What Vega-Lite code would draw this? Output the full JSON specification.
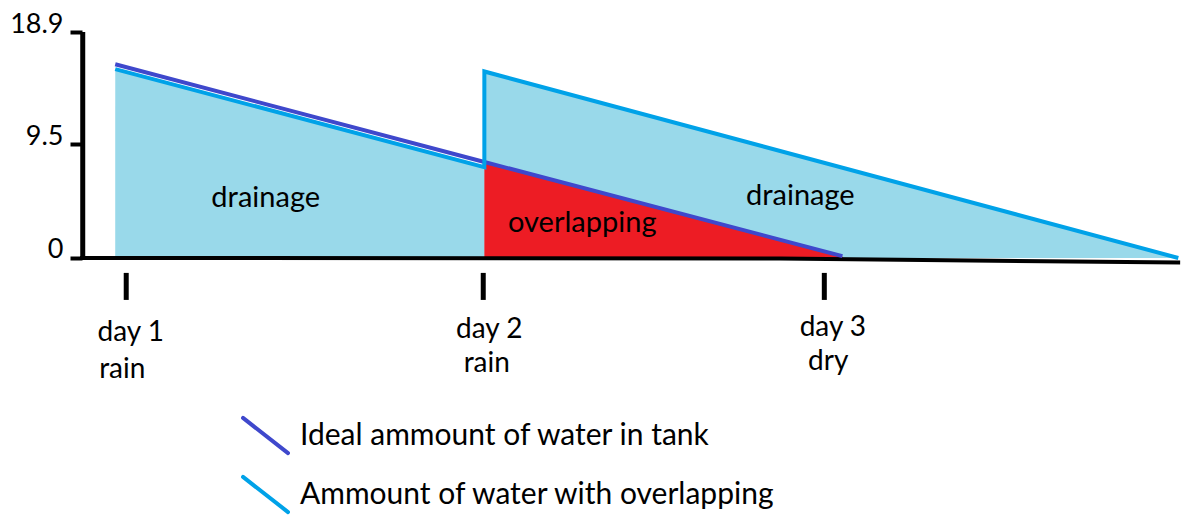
{
  "$schema": "https://vega.github.io/schema/vega-lite/v6.json",
  "width": 1100,
  "height": 483,
  "autosize": {"type": "none"},
  "padding": {"left": 82, "top": 32, "right": 0, "bottom": 0},
  "background": "white",
  "config": {"view": {"stroke": null}, "font": "Lato"},
  "datasets": {
    "fills": [
      {"region": "day 1 drainage", "day": 1, "water": 15.8},
      {"region": "day 1 drainage", "day": 2, "water": 7.6},
      {"region": "day 2 drainage", "day": 2, "water": 15.6},
      {"region": "day 2 drainage", "day": 3.88, "water": 0}
    ],
    "overlap": [
      {"day": 2, "water": 8.03},
      {"day": 2.97, "water": 0.15}
    ],
    "baseline": [
      {"day": 0.905, "water": 0},
      {"day": 2.8, "water": -0.05},
      {"day": 3.885, "water": -0.38}
    ],
    "rules": [
      {"part": "y axis", "day": 0.912, "water": -0.15, "water2": 18.9},
      {"part": "day 1 tick", "day": 1.0298, "water": -1.25, "water2": -3.51},
      {"part": "day 2 tick", "day": 1.997, "water": -1.25, "water2": -3.51},
      {"part": "day 3 tick", "day": 2.921, "water": -1.25, "water2": -3.51}
    ],
    "lines": [
      {"series": "Ideal ammount of water in tank", "step": 1, "day": 1, "water": 16.2},
      {"series": "Ideal ammount of water in tank", "step": 2, "day": 2, "water": 8.03},
      {"series": "Ideal ammount of water in tank", "step": 3, "day": 2.97, "water": 0.15},
      {"series": "Ammount of water with overlapping", "step": 1, "day": 1, "water": 15.8},
      {"series": "Ammount of water with overlapping", "step": 2, "day": 2, "water": 7.6},
      {"series": "Ammount of water with overlapping", "step": 3, "day": 2, "water": 15.6},
      {"series": "Ammount of water with overlapping", "step": 4, "day": 3.88, "water": 0}
    ],
    "plotLabels": [
      {"label": "drainage", "day": 1.4077, "water": 4.26},
      {"label": "overlapping", "day": 2.2652, "water": 2.17},
      {"label": "drainage", "day": 2.8559, "water": 4.43}
    ],
    "dayLabels": [
      {"label": "day 1", "day": 1.042, "water": -6.94},
      {"label": "rain", "day": 1.019, "water": -10.03},
      {"label": "day 2", "day": 2.0133, "water": -6.69},
      {"label": "rain", "day": 2.0065, "water": -9.53},
      {"label": "day 3", "day": 2.9442, "water": -6.52},
      {"label": "dry", "day": 2.9317, "water": -9.36}
    ]
  },
  "encoding": {
    "x": {"field": "day", "type": "quantitative", "scale": {"domain": [0.91, 3.89], "nice": false, "zero": false}, "axis": null},
    "y": {
      "field": "water",
      "type": "quantitative",
      "scale": {"domain": [-21.5, 18.9], "nice": false, "zero": false},
      "axis": {
        "values": [0, 9.5, 18.9],
        "format": ".1~f",
        "domain": false,
        "grid": false,
        "title": null,
        "tickSize": 12,
        "tickWidth": 4,
        "tickColor": "black",
        "labelFont": "Lato",
        "labelFontSize": 27,
        "labelColor": "black",
        "labelBaseline": "alphabetic",
        "labelPadding": 7
      }
    }
  },
  "layer": [
    {
      "data": {"name": "fills"},
      "mark": {"type": "area", "color": "#99D9EA", "opacity": 1},
      "encoding": {"y2": {"datum": 0}, "detail": {"field": "region"}}
    },
    {
      "data": {"name": "overlap"},
      "mark": {"type": "area", "color": "#ED1C24", "opacity": 1},
      "encoding": {"y2": {"datum": 0}}
    },
    {
      "data": {"name": "baseline"},
      "mark": {"type": "line", "color": "black", "strokeWidth": 4},
      "encoding": {}
    },
    {
      "data": {"name": "rules"},
      "mark": {"type": "rule", "color": "black", "strokeWidth": 5},
      "encoding": {"y2": {"field": "water2"}}
    },
    {
      "data": {"name": "lines"},
      "mark": {"type": "line", "strokeWidth": 4},
      "encoding": {
        "order": {"field": "step"},
        "color": {
          "field": "series",
          "type": "nominal",
          "scale": {"domain": ["Ideal ammount of water in tank", "Ammount of water with overlapping"], "range": ["#3F48CC", "#00A2E8"]},
          "legend": {
            "orient": "none",
            "legendX": 159,
            "legendY": 379,
            "title": null,
            "padding": 0,
            "symbolType": "M-1,-0.78L1,0.78",
            "symbolSize": 2025,
            "symbolStrokeWidth": 4,
            "labelFont": "Lato",
            "labelFontSize": 30,
            "labelColor": "black",
            "labelOffset": 10,
            "labelLimit": 0,
            "rowPadding": 6,
            "encode": {"symbols": {"update": {"strokeCap": {"value": "round"}}}}
          }
        }
      }
    },
    {
      "data": {"name": "plotLabels"},
      "mark": {"type": "text", "fontSize": 29, "align": "center", "baseline": "alphabetic", "color": "black", "font": "Lato"},
      "encoding": {"text": {"field": "label"}}
    },
    {
      "data": {"name": "dayLabels"},
      "mark": {"type": "text", "fontSize": 28, "align": "center", "baseline": "alphabetic", "color": "black", "font": "Lato"},
      "encoding": {"text": {"field": "label"}}
    }
  ]
}
